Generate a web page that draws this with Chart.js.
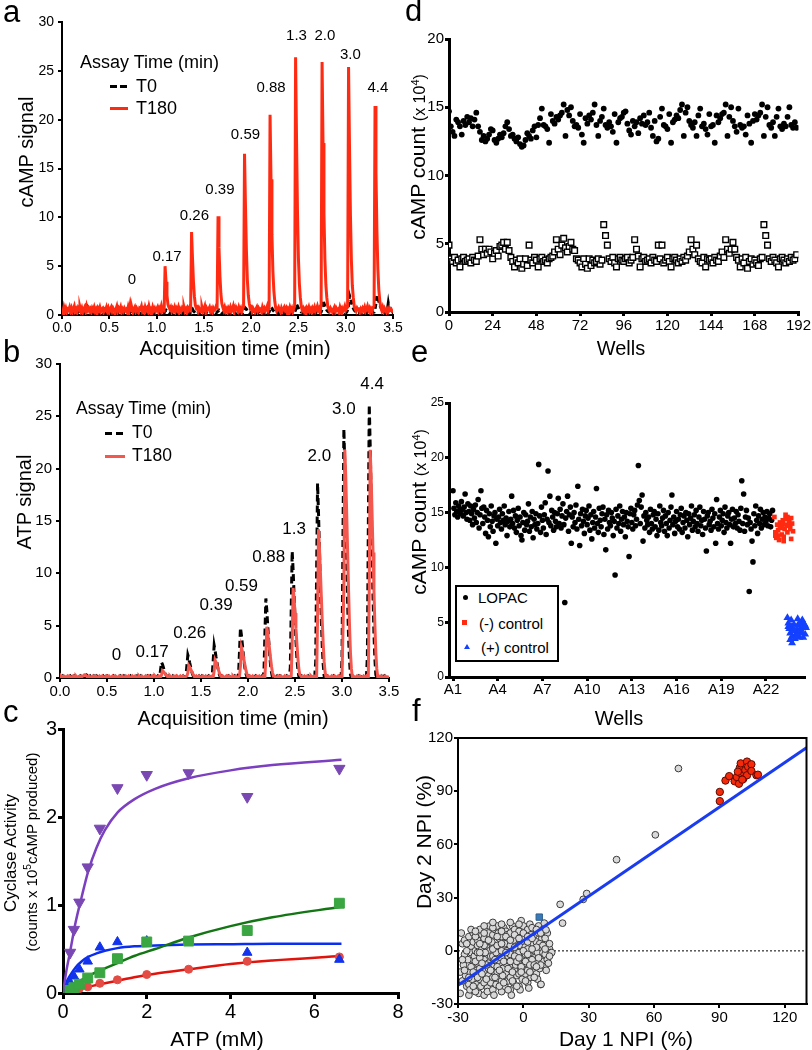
<!DOCTYPE html>
<html>
<head>
<meta charset="utf-8">
<script src="https://cdn.jsdelivr.net/npm/chart.js@4.4.0/dist/chart.umd.min.js"></script>
<style>
body { margin:0; background:#fff; font-family:'Liberation Sans', Arial, Helvetica, sans-serif; color:#000; }
#fig { position:relative; width:812px; height:1050px; overflow:hidden; background:#fff; }
canvas { position:absolute; }
.t { position:absolute; transform:translate(-50%,-50%); white-space:nowrap; line-height:1; }
.v { position:absolute; transform:translate(-50%,-50%) rotate(-90deg); white-space:nowrap; line-height:1; }
.l { position:absolute; transform:translateY(-50%); white-space:nowrap; line-height:1; }
.p { position:absolute; font-size:31px; line-height:1; }
.bar { position:absolute; height:3px; }
sup { font-size:0.68em; vertical-align:0.55em; line-height:0; }
</style>
</head>
<body>
<div id="fig">
<canvas id="chartA" width="406" height="345" style="left:0;top:0"></canvas>
<canvas id="chartB" width="406" height="360" style="left:0;top:350px"></canvas>
<canvas id="chartC" width="406" height="345" style="left:0;top:705px"></canvas>
<canvas id="chartD" width="406" height="345" style="left:406px;top:0"></canvas>
<canvas id="chartE" width="406" height="360" style="left:406px;top:350px"></canvas>
<canvas id="chartF" width="406" height="345" style="left:406px;top:705px"></canvas>

<!-- panel letters -->
<div class="p" style="left:3px;top:-4px">a</div>
<div class="p" style="left:3px;top:336px">b</div>
<div class="p" style="left:3px;top:696px">c</div>
<div class="p" style="left:405px;top:-5px">d</div>
<div class="p" style="left:411px;top:336px">e</div>
<div class="p" style="left:412px;top:695px">f</div>

<!-- axis titles -->
<div class="t" style="left:235px;top:348px;font-size:20px">Acquisition time (min)</div>
<div class="v" style="left:26px;top:152px;font-size:20px">cAMP signal</div>
<div class="t" style="left:233px;top:718px;font-size:20px">Acquisition time (min)</div>
<div class="v" style="left:24px;top:502px;font-size:20px">ATP signal</div>
<div class="t" style="left:217px;top:1038px;font-size:21px">ATP (mM)</div>
<div class="v" style="left:10px;top:853px;font-size:17px">Cyclase Activity</div>
<div class="v" style="left:31px;top:852px;font-size:15px">(counts x 10<sup>5</sup>cAMP produced)</div>
<div class="t" style="left:621px;top:348px;font-size:20px">Wells</div>
<div class="v" style="left:417px;top:157px;font-size:21px">cAMP count <span style="font-size:16px">(x 10<sup>4</sup>)</span></div>
<div class="t" style="left:619px;top:718px;font-size:20px">Wells</div>
<div class="v" style="left:418px;top:512px;font-size:21px">cAMP count <span style="font-size:16px">(x 10<sup>4</sup>)</span></div>
<div class="t" style="left:626px;top:1038px;font-size:21px">Day 1 NPI (%)</div>
<div class="v" style="left:423px;top:842px;font-size:21px">Day 2 NPI (%)</div>

<!-- legend a -->
<div class="l" style="left:80px;top:62px;font-size:18px">Assay Time (min)</div>
<div class="bar" style="left:110px;top:85px;width:7px;background:#000"></div>
<div class="bar" style="left:120px;top:85px;width:7px;background:#000"></div>
<div class="l" style="left:136px;top:86px;font-size:18px">T0</div>
<div class="bar" style="left:110px;top:107px;width:18px;background:#ff2a12"></div>
<div class="l" style="left:136px;top:108px;font-size:18px">T180</div>

<!-- legend b -->
<div class="l" style="left:76px;top:409px;font-size:17.5px">Assay Time (min)</div>
<div class="bar" style="left:105px;top:432px;width:7px;background:#000"></div>
<div class="bar" style="left:116px;top:432px;width:7px;background:#000"></div>
<div class="l" style="left:132px;top:433px;font-size:17.5px">T0</div>
<div class="bar" style="left:105px;top:455px;width:20px;background:#f4574e"></div>
<div class="l" style="left:132px;top:456px;font-size:17.5px">T180</div>

<!-- legend e -->
<div style="position:absolute;left:455px;top:585px;width:100px;height:73px;border:2px solid #000;background:#fff"></div>
<div style="position:absolute;left:462.5px;top:594.5px;width:5px;height:5px;border-radius:50%;background:#000"></div>
<div class="l" style="left:478px;top:597px;font-size:15px">LOPAC</div>
<div style="position:absolute;left:462px;top:620px;width:5px;height:5px;background:#ff2a10"></div>
<div class="l" style="left:479px;top:623px;font-size:15px">(-) control</div>
<div style="position:absolute;left:464px;top:644px;width:0;height:0;border-left:3px solid transparent;border-right:3px solid transparent;border-bottom:5px solid #1440ff"></div>
<div class="l" style="left:481px;top:647px;font-size:15px">(+) control</div>
</div>

<script>
// ---------- data ----------
var sampleStep = 0.01; // acquisition sampling, min

// panel a: cAMP signal, one value per 0.01 min (0.00 .. 3.50)
var campT180 = [
0.6,0.3,0.8,0.4,0.7,0.3,0.6,0.5,0.8,0.4,
0.7,0.3,0.6,0.9,0.4,0.6,0.3,0.7,0.5,0.8,
0.4,0.7,0.3,0.6,0.8,0.4,0.9,0.5,0.7,0.4,
0.6,0.3,0.7,0.5,0.8,0.4,0.6,0.3,0.7,0.5,
0.8,0.4,0.6,0.7,0.3,0.6,0.5,0.8,0.4,0.7,
0.3,0.6,0.8,0.4,0.7,0.5,0.3,0.6,0.9,0.4,
0.7,0.5,0.8,0.3,0.6,0.4,0.7,0.5,0.6,0.3,
0.8,0.4,1.0,0.5,0.7,0.3,0.6,0.8,0.4,0.7,
0.5,0.3,0.7,0.6,0.9,0.4,0.6,0.3,0.8,0.5,
0.7,0.4,0.9,0.5,0.6,0.3,0.8,0.5,0.7,0.4,
0.6,0.8,0.4,0.7,0.5,0.9,0.4,0.6,0.5,5.0,
3.4,2.0,1.1,0.8,0.6,0.8,0.4,0.7,0.5,0.8,
0.4,0.7,0.5,0.8,0.3,0.6,0.4,0.7,0.5,0.8,
0.4,0.6,0.3,0.7,0.5,0.8,0.6,8.5,5.8,3.4,
1.9,1.0,0.7,0.8,0.4,0.7,0.5,0.3,0.8,0.4,
0.6,0.9,0.3,0.7,0.5,0.6,0.8,0.4,0.6,0.3,
0.7,0.5,0.6,0.9,0.8,10.1,6.9,4.0,2.2,1.2,
0.8,0.5,0.8,0.4,0.6,0.3,0.7,0.5,0.8,0.4,
0.6,0.9,0.3,0.7,0.5,0.6,0.4,0.8,0.5,0.7,
0.3,0.6,0.9,16.5,11.2,6.6,3.6,2.0,1.2,0.7,
0.8,0.4,0.7,0.5,0.3,0.6,0.8,0.4,0.7,0.5,
0.6,0.3,0.8,0.5,0.7,0.4,0.6,0.9,0.5,0.8,
20.5,13.9,8.2,4.5,2.5,1.4,0.7,0.4,0.6,0.8,
0.5,0.3,0.7,0.4,0.6,0.8,0.5,0.7,0.3,0.6,
0.4,0.8,0.5,0.7,0.3,0.6,0.9,26.4,18.0,10.6,
5.8,3.2,1.8,0.9,0.5,0.7,0.4,0.6,0.3,0.7,
0.5,0.8,0.4,0.6,0.3,0.7,0.5,0.8,0.4,0.6,
0.9,0.5,0.7,0.4,1.0,25.9,17.6,10.4,5.7,3.1,
1.8,0.9,0.6,0.4,0.7,0.5,0.3,0.6,0.8,0.4,
0.7,0.5,0.6,0.3,0.8,0.5,0.7,0.4,0.6,0.9,
0.5,0.7,0.8,25.4,17.3,10.2,5.6,3.0,1.8,0.9,
0.6,0.4,0.7,0.5,0.8,0.3,0.6,0.4,0.7,0.5,
0.8,0.4,0.6,0.9,0.5,0.7,0.3,0.6,0.4,0.8,
0.9,21.4,14.6,8.6,4.7,2.6,1.5,0.8,0.5,0.8,
0.4,0.7,0.5,0.3,0.6,0.4,0.7,0.5,0.6,0.4,
0.5];
var campT0 = [
1.0,0.6,0.3,0.2,0.3,0.2,0.1,0.2,0.3,0.2,
0.2,0.1,0.3,0.2,0.2,0.1,0.2,0.3,0.2,0.1,
0.2,0.3,0.2,0.2,0.4,0.7,1.2,1.0,0.6,0.4,
0.3,0.2,0.3,0.2,0.2,0.1,0.2,0.2,0.3,0.2,
0.2,0.1,0.2,0.3,0.2,0.2,0.1,0.2,0.2,0.3,
0.2,0.1,0.2,0.2,0.3,0.2,0.2,0.1,0.2,0.2,
0.3,0.2,0.2,0.1,0.2,0.2,0.3,0.2,0.1,0.2,
0.2,0.3,0.2,0.2,0.1,0.2,0.2,0.3,0.2,0.2,
0.1,0.2,0.2,0.1,0.2,0.3,0.2,0.2,0.1,0.2,
0.2,0.3,0.2,0.1,0.2,0.2,0.3,0.2,0.2,0.1,
0.2,0.2,0.3,0.2,0.1,0.2,0.2,0.3,0.2,0.4,
0.5,0.4,0.3,0.2,0.2,0.1,0.2,0.2,0.3,0.2,
0.2,0.1,0.2,0.3,0.2,0.2,0.1,0.2,0.2,0.3,
0.2,0.2,0.1,0.2,0.3,0.2,0.3,0.5,0.6,0.4,
0.3,0.2,0.2,0.1,0.2,0.3,0.2,0.2,0.1,0.2,
0.2,0.3,0.2,0.2,0.1,0.2,0.2,0.3,0.2,0.2,
0.1,0.2,0.3,0.2,0.3,0.4,0.5,0.4,0.3,0.2,
0.2,0.3,0.2,0.1,0.2,0.2,0.3,0.2,0.2,0.1,
0.2,0.2,0.3,0.2,0.1,0.2,0.2,0.3,0.2,0.2,
0.1,0.2,0.3,0.5,0.7,0.6,0.4,0.3,0.2,0.2,
0.3,0.2,0.2,0.1,0.2,0.2,0.3,0.2,0.2,0.1,
0.2,0.2,0.3,0.2,0.1,0.2,0.2,0.3,0.2,0.3,
0.6,0.8,0.7,0.5,0.4,0.3,0.2,0.2,0.3,0.2,
0.2,0.1,0.2,0.2,0.3,0.2,0.2,0.1,0.2,0.2,
0.3,0.2,0.2,0.1,0.2,0.2,0.3,0.5,1.1,0.9,
0.7,0.5,0.4,0.3,0.3,0.2,0.2,0.3,0.2,0.2,
0.1,0.2,0.2,0.3,0.2,0.2,0.1,0.2,0.2,0.3,
0.2,0.2,0.1,0.2,0.3,0.6,1.5,1.2,0.9,0.7,
0.5,0.4,0.3,0.3,0.2,0.2,0.3,0.2,0.2,0.1,
0.2,0.2,0.3,0.2,0.2,0.1,0.2,0.2,0.3,0.2,
0.2,0.3,0.5,1.0,2.0,1.7,1.3,1.0,0.7,0.5,
0.4,0.3,0.3,0.2,0.2,0.1,0.2,0.2,0.3,0.2,
0.2,0.1,0.2,0.3,0.2,0.2,0.3,0.2,0.2,0.3,
0.3,0.6,1.2,2.0,1.8,1.4,1.1,0.8,0.6,0.4,
0.3,0.3,0.2,0.2,0.5,1.2,0.6,0.3,0.2,0.2,
0.3];

// panel b: ATP signal
var atpT0 = [
0.2,0.1,0.1,0.2,0.1,0.1,0.1,0.2,0.1,0.1,
0.1,0.2,0.1,0.1,0.1,0.2,0.1,0.1,0.2,0.1,
0.1,0.1,0.2,0.1,0.1,0.2,0.3,0.4,0.3,0.2,
0.1,0.1,0.2,0.1,0.1,0.1,0.2,0.1,0.1,0.2,
0.1,0.1,0.1,0.2,0.1,0.1,0.2,0.1,0.1,0.1,
0.2,0.1,0.1,0.1,0.2,0.1,0.1,0.2,0.1,0.1,
0.1,0.2,0.1,0.1,0.2,0.1,0.1,0.1,0.2,0.1,
0.1,0.1,0.2,0.1,0.1,0.2,0.1,0.1,0.1,0.2,
0.1,0.1,0.2,0.1,0.1,0.1,0.2,0.1,0.1,0.2,
0.1,0.1,0.1,0.2,0.1,0.1,0.2,0.1,0.1,0.1,
0.2,0.1,0.1,0.1,0.2,0.1,0.12,0.8,1.5,1.3,
1.0,0.7,0.45,0.25,0.12,0.1,0.2,0.1,0.1,0.1,
0.2,0.1,0.1,0.1,0.2,0.1,0.1,0.2,0.1,0.1,
0.1,0.2,0.1,0.1,0.18,1.2,2.2,1.9,1.45,1.05,
0.66,0.35,0.15,0.1,0.2,0.1,0.1,0.1,0.2,0.1,
0.1,0.2,0.1,0.1,0.1,0.2,0.1,0.1,0.2,0.1,
0.1,0.1,0.25,1.7,3.1,2.6,2.0,1.5,0.93,0.5,
0.22,0.1,0.2,0.1,0.1,0.1,0.2,0.1,0.1,0.2,
0.1,0.1,0.1,0.2,0.1,0.1,0.2,0.1,0.1,0.1,
0.4,2.6,4.8,4.1,3.2,2.3,1.45,0.77,0.34,0.1,
0.1,0.2,0.1,0.1,0.1,0.2,0.1,0.1,0.2,0.1,
0.1,0.1,0.2,0.1,0.1,0.2,0.1,0.6,4.2,7.6,
6.5,5.0,3.6,2.3,1.2,0.53,0.1,0.2,0.1,0.1,
0.1,0.2,0.1,0.1,0.2,0.1,0.1,0.1,0.2,0.1,
0.1,0.2,0.1,0.1,0.1,1.0,6.7,12.1,10.3,8.0,
5.7,3.6,1.9,0.85,0.2,0.1,0.1,0.2,0.1,0.1,
0.2,0.1,0.1,0.1,0.2,0.1,0.1,0.2,0.1,0.1,
0.1,0.2,1.5,10.2,18.6,15.8,12.3,8.7,5.6,3.0,
1.3,0.2,0.1,0.1,0.2,0.1,0.1,0.1,0.2,0.1,
0.1,0.2,0.1,0.1,0.1,0.2,0.1,0.1,0.2,0.1,
1.9,13.1,23.8,20.2,15.7,11.2,7.1,3.8,1.7,0.3,
0.1,0.2,0.1,0.1,0.1,0.2,0.1,0.1,0.2,0.1,
0.1,0.1,0.2,0.1,0.1,0.2,0.1,2.1,14.4,26.1,
22.2,17.2,12.3,7.8,4.2,1.8,0.3,0.1,0.2,0.1,
0.1,0.1,0.2,0.1,0.1,0.2,0.1,0.1,0.1,0.2,
0.1];
var atpT180 = [
0.1,0.2,0.1,0.1,0.2,0.1,0.1,0.1,0.2,0.1,
0.2,0.1,0.1,0.1,0.2,0.1,0.1,0.2,0.1,0.1,
0.1,0.2,0.1,0.1,0.2,0.2,0.3,0.3,0.2,0.1,
0.1,0.2,0.1,0.1,0.1,0.2,0.1,0.1,0.2,0.1,
0.1,0.1,0.2,0.1,0.1,0.2,0.1,0.1,0.1,0.2,
0.1,0.1,0.2,0.1,0.1,0.1,0.2,0.1,0.1,0.2,
0.1,0.1,0.1,0.2,0.1,0.1,0.2,0.1,0.1,0.1,
0.2,0.1,0.1,0.2,0.1,0.1,0.1,0.2,0.1,0.1,
0.2,0.1,0.1,0.1,0.2,0.1,0.1,0.2,0.1,0.1,
0.1,0.2,0.1,0.1,0.2,0.1,0.1,0.1,0.2,0.1,
0.1,0.2,0.1,0.1,0.1,0.2,0.1,0.1,0.28,0.7,
0.62,0.5,0.39,0.27,0.16,0.1,0.1,0.2,0.1,0.1,
0.1,0.2,0.1,0.1,0.2,0.1,0.1,0.1,0.2,0.1,
0.1,0.2,0.1,0.1,0.1,0.2,0.48,1.2,1.06,0.86,
0.66,0.46,0.28,0.13,0.1,0.2,0.1,0.1,0.2,0.1,
0.1,0.1,0.2,0.1,0.1,0.2,0.1,0.1,0.1,0.2,
0.1,0.1,0.2,0.1,0.68,1.7,1.5,1.22,0.94,0.65,
0.39,0.19,0.1,0.2,0.1,0.1,0.1,0.2,0.1,0.1,
0.2,0.1,0.1,0.1,0.2,0.1,0.1,0.2,0.1,0.1,
0.1,0.2,1.16,2.9,2.55,2.09,1.6,1.1,0.67,0.32,
0.12,0.1,0.2,0.1,0.1,0.2,0.1,0.1,0.1,0.2,
0.1,0.1,0.2,0.1,0.1,0.1,0.2,0.1,0.1,1.96,
4.9,4.3,3.5,2.7,1.86,1.13,0.54,0.2,0.2,0.1,
0.1,0.1,0.2,0.1,0.1,0.2,0.1,0.1,0.1,0.2,
0.1,0.1,0.2,0.1,0.1,0.1,0.2,3.4,8.6,7.6,
6.2,4.7,3.3,2.0,0.95,0.34,0.2,0.1,0.1,0.1,
0.2,0.1,0.1,0.2,0.1,0.1,0.1,0.2,0.1,0.1,
0.2,0.1,0.1,0.1,5.7,14.2,12.5,10.2,7.8,5.4,
3.3,1.56,0.57,0.1,0.1,0.2,0.1,0.1,0.1,0.2,
0.1,0.1,0.2,0.1,0.1,0.1,0.2,0.1,0.1,0.2,
0.1,0.1,8.7,21.8,19.2,15.7,12.0,8.3,5.0,2.4,
0.87,0.1,0.2,0.1,0.1,0.1,0.2,0.1,0.1,0.2,
0.1,0.1,0.1,0.2,0.1,0.1,0.2,0.1,0.1,8.7,
21.8,19.2,15.7,12.0,8.3,5.0,2.4,0.87,0.1,0.2,
0.1,0.1,0.2,0.1,0.1,0.1,0.2,0.1,0.1,0.1,
0.2];

// ATP concentration labels on the peaks (mM), anchored in data units
var peakText = ['0', '0.17', '0.26', '0.39', '0.59', '0.88', '1.3', '2.0', '3.0', '4.4'];
var peakTimeA = [0.74, 1.11, 1.40, 1.67, 1.94, 2.21, 2.48, 2.78, 3.05, 3.34];
var peakSignalA = [3.6, 6.0, 10.1, 12.8, 18.4, 23.3, 28.6, 28.6, 26.6, 23.3];
var peakTimeB = [0.60, 0.98, 1.38, 1.66, 1.93, 2.22, 2.49, 2.76, 3.02, 3.32];
var peakSignalB = [2.2, 2.5, 4.3, 6.9, 8.8, 11.5, 14.2, 21.2, 25.7, 28.1];

// panel c: cyclase activity vs ATP
var atpConc = [0.17, 0.26, 0.39, 0.59, 0.88, 1.3, 2.0, 3.0, 4.4, 6.6];
var activityPurple = [0.46, 0.72, 1.03, 1.43, 1.87, 2.33, 2.48, 2.50, 2.23, 2.55];
var activityGreen = [0.03, 0.06, 0.10, 0.17, 0.23, 0.39, 0.58, 0.59, 0.71, 1.02];
var activityBlue = [0.12, 0.19, 0.27, 0.36, 0.52, 0.58, 0.59, 0.58, 0.46, 0.38];
var activityRed = [0.01, 0.03, 0.05, 0.07, 0.11, 0.15, 0.21, 0.27, 0.36, 0.41];
// fitted curves
var fitAtp = [0, 0.08, 0.17, 0.3, 0.45, 0.6, 0.8, 1.0, 1.3, 1.7, 2.2, 3.0, 4.0, 5.0, 6.65];
var fitPurple = [0, 0.25, 0.47, 0.8, 1.1, 1.38, 1.65, 1.85, 2.05, 2.2, 2.32, 2.44, 2.53, 2.59, 2.65];
var fitGreen = [0, 0.03, 0.06, 0.1, 0.15, 0.19, 0.24, 0.28, 0.34, 0.42, 0.5, 0.63, 0.76, 0.86, 0.98];
var fitBlue = [0, 0.12, 0.2, 0.29, 0.36, 0.41, 0.45, 0.48, 0.51, 0.53, 0.54, 0.55, 0.555, 0.56, 0.56];
var fitRed = [0, 0.01, 0.02, 0.03, 0.05, 0.07, 0.09, 0.11, 0.14, 0.18, 0.22, 0.27, 0.33, 0.37, 0.42];

// panel d: cAMP count (x10^4) per well, 192 wells
var countHigh = [
14.7,13.6,13.2,12.9,14.1,13.9,13.6,13.0,14.0,13.7,14.3,13.9,14.2,13.6,14.1,14.6,13.6,13.2,12.6,12.9,12.5,12.7,13.0,13.4,
13.3,12.6,12.4,12.7,13.0,12.8,13.1,13.6,13.9,13.4,12.9,13.0,12.7,12.5,12.8,12.3,12.1,12.2,12.6,13.1,12.9,12.7,13.3,13.6,
12.8,13.7,14.2,14.9,13.7,13.6,13.4,12.4,14.5,14.0,13.8,14.3,14.1,14.4,14.6,15.2,12.9,14.8,14.4,15.0,14.0,13.6,13.7,13.5,
14.5,13.0,12.4,14.2,13.8,14.4,14.1,14.6,15.2,13.7,12.9,14.0,14.3,14.9,13.7,13.5,13.9,13.6,13.2,14.5,12.4,13.9,14.2,14.3,
14.6,14.7,13.8,13.3,13.0,14.0,13.6,13.9,13.1,14.2,13.8,14.4,13.7,13.9,14.6,13.5,12.9,14.0,12.5,12.7,14.3,14.9,13.7,13.6,
13.4,14.5,12.4,13.9,14.1,14.4,14.2,14.8,15.2,12.9,14.6,15.0,14.0,13.7,13.5,13.9,12.9,14.4,14.9,13.6,13.8,13.4,13.0,14.5,
13.6,13.7,12.4,14.4,13.9,14.2,14.5,14.6,15.2,12.9,14.3,15.0,14.0,13.6,13.2,14.9,13.7,13.5,13.6,13.0,14.4,13.8,12.4,14.0,
14.5,14.1,14.4,14.6,15.2,12.9,14.3,15.0,13.7,13.5,13.9,12.9,14.3,14.9,13.6,13.4,13.8,13.6,14.3,15.0,13.7,13.5,13.9,13.5];
var countLow = [
4.9,3.9,3.7,4.0,3.6,3.8,3.3,3.9,4.0,3.7,3.8,3.9,3.6,4.0,3.8,3.7,4.1,5.3,4.6,4.2,4.6,4.3,4.6,4.4,
3.9,4.3,4.5,4.1,4.8,4.9,5.1,4.6,5.1,4.5,4.0,3.7,3.3,3.8,3.6,3.9,3.2,3.5,3.9,3.4,4.9,3.8,3.6,4.0,
3.8,3.3,3.9,4.0,3.7,3.8,3.6,3.9,4.0,4.1,4.4,5.3,4.6,4.2,4.9,5.4,4.7,4.4,4.8,5.1,4.6,4.5,3.9,3.8,
3.6,3.3,3.9,3.5,3.2,3.9,3.4,3.8,3.6,3.7,3.9,3.5,3.8,6.4,5.6,4.9,3.9,3.7,4.0,3.6,3.3,3.9,4.0,3.8,
3.7,3.9,4.0,3.6,3.8,4.0,5.3,4.6,4.1,3.3,3.9,4.0,3.7,3.8,3.9,3.6,4.0,3.8,3.7,4.9,3.9,4.9,3.6,3.8,
4.0,3.7,3.3,3.9,4.0,3.8,3.6,3.9,3.7,4.0,3.8,4.1,4.4,5.3,4.6,4.2,4.9,3.9,3.7,3.6,4.0,3.3,3.9,3.8,
3.9,3.6,4.0,3.8,3.7,4.1,4.4,4.0,5.3,4.6,4.3,4.6,5.1,4.6,4.0,3.8,3.3,3.9,3.6,4.0,3.2,3.7,3.9,3.5,
3.8,3.6,3.4,3.9,4.0,6.4,5.6,4.9,3.9,3.7,4.0,3.8,3.6,3.3,3.9,4.0,3.8,3.6,3.9,3.7,4.0,3.8,3.9,4.2];

// panel e: LOPAC plate, wells in plate order (16 per column)
var lopacCount = [
17.0,15.4,14.8,15.9,15.1,14.6,15.6,15.2,14.9,16.0,15.3,14.7,15.5,16.7,15.0,14.4,
15.8,15.1,14.3,15.6,14.9,13.9,15.3,14.5,15.7,14.1,15.0,16.2,13.6,14.8,17.0,15.4,
14.0,15.5,14.6,13.1,15.2,14.3,12.8,14.9,13.7,15.6,14.2,13.3,14.7,15.0,12.2,14.4,
13.8,14.6,15.3,14.1,13.5,14.9,14.3,15.6,13.9,14.5,12.9,14.2,15.1,13.7,14.4,16.5,
14.0,15.2,13.6,14.7,13.2,14.3,15.4,13.8,14.6,12.9,12.5,14.1,15.0,13.4,14.8,13.9,
14.2,15.8,13.3,14.6,13.7,15.1,12.7,14.4,13.9,14.9,13.5,14.0,19.4,14.7,13.2,15.5,
14.3,13.6,14.8,15.9,13.0,14.4,18.8,14.1,16.5,13.8,15.2,14.6,13.4,15.0,14.2,13.7,
14.9,16.3,14.0,15.3,13.6,14.7,15.8,13.9,6.8,14.5,15.1,16.5,13.3,14.8,15.5,12.2,
14.6,13.7,15.0,14.1,15.7,13.5,17.4,14.4,12.0,14.9,13.8,15.3,14.2,13.1,14.7,15.2,
13.9,14.5,15.6,13.4,14.8,12.6,14.1,15.1,13.6,14.6,17.2,14.0,13.2,15.4,14.3,13.7,
14.9,15.5,13.0,14.4,11.6,14.8,13.5,15.2,14.1,13.8,15.0,14.5,12.9,14.2,9.3,15.3,
13.6,14.7,14.0,15.6,13.3,14.4,15.1,13.9,14.6,12.8,15.0,14.2,13.7,11.0,14.9,15.4,
14.1,13.5,14.8,15.2,13.8,14.4,15.7,19.3,16.1,14.0,15.5,16.6,12.4,14.7,13.6,15.0,
14.3,13.9,14.6,13.2,15.3,14.0,13.5,14.8,15.1,13.7,14.4,12.9,14.9,13.4,15.6,14.1,
13.8,14.5,15.2,13.3,14.7,14.0,12.9,15.0,13.6,14.3,15.5,16.6,13.9,14.6,13.1,14.2,
15.1,13.7,14.4,13.5,14.8,15.4,13.2,14.1,14.7,13.6,15.0,14.3,12.8,14.9,13.9,14.5,
15.6,13.4,14.2,14.8,13.7,15.2,14.0,13.3,14.6,15.5,13.8,14.3,13.0,15.1,14.4,13.6,
11.5,14.7,15.0,13.9,14.2,13.4,15.3,14.5,13.7,14.9,12.2,16.2,14.0,13.5,14.6,15.2,
13.8,14.3,14.9,13.2,15.5,14.1,13.6,14.7,15.0,13.9,12.2,14.4,15.3,13.7,14.5,14.0,
15.1,13.6,14.8,14.2,13.4,15.4,17.9,14.0,16.7,13.3,14.6,15.2,13.9,14.5,7.8,14.1,
13.5,12.4,10.5,14.9,13.8,15.6,14.3,13.1,14.7,14.0,15.3,13.6,14.4,15.0,13.9,14.6,
14.2,15.1,13.8,14.5,14.9,13.7,14.3,15.2];
var negWell = [345, 346, 347, 348, 349, 350, 351, 352, 353, 354, 355, 356, 357, 358, 359, 360, 361, 362, 363, 364, 365, 349, 353, 357,
  347, 351, 355, 359, 363, 346, 354, 362];
var negCount = [14.6, 13.2, 12.7, 13.9, 13.4, 12.5, 14.1, 13.6, 13.0, 14.3, 12.8, 13.5, 14.8, 13.9, 14.6, 13.8, 14.2, 13.9, 12.6, 14.0, 13.3, 12.9, 13.7, 14.4,
  13.1, 13.8, 12.4, 13.2, 14.5, 12.9, 14.0, 13.5];
var posWell = [359, 360, 361, 362, 363, 364, 365, 366, 367, 368, 369, 370, 371, 372, 373, 374, 375, 376, 377, 378, 379, 364, 368, 372,
  360, 363, 366, 369, 372, 375, 378, 362, 370, 376];
var posCount = [5.4, 4.9, 4.4, 4.0, 4.6, 3.7, 4.2, 4.8, 3.5, 3.9, 4.3, 4.7, 4.1, 3.6, 4.4, 5.0, 5.2, 4.5, 4.8, 3.9, 4.5, 3.1, 3.8, 4.1,
  4.6, 5.2, 4.3, 3.8, 4.9, 4.0, 4.7, 3.4, 5.3, 3.6];
var plateTickWell = [0, 48, 96, 144, 192, 240, 288, 336];
var plateTickLabel = ['A1', 'A4', 'A7', 'A10', 'A13', 'A16', 'A19', 'A22'];

// panel f: [day 1 NPI, day 2 NPI]
var libraryNpi = [
[-28.5,10],[-28,4],[-29,-12],[-28,-17],[-29,-24],[-27,-2],[-27.5,-8],[-26.5,-14],[-27,6],[-26,-20],
[-25,-25],[-25,-19],[-24.5,-12],[-25.5,-5],[-24,2],[-25,8],[-23.5,-16],[-23,-8],[-24,-1],[-23,5],[-24.5,-22],[-23,10],[-22.5,-3],
[-22,-13],[-21.5,-19],[-21,-7],[-22,0],[-21,6],[-20.5,-24],[-20,-16],[-20,-10],[-19.5,-3],[-21,3],[-19,9],[-20,12],[-19.5,-20],[-22,-23],[-19,1],[-21,-1],
[-18,-25],[-18,-18],[-17.5,-11],[-18,-5],[-17,2],[-18,7],[-16.5,-21],[-16,-14],[-16,-7],[-15.5,0],[-17,12],[-15,5],[-16,10],[-15,-3],[-17.5,-1],[-15,-18],[-16.5,-23],[-15.5,14],
[-14,-22],[-14,-15],[-13.5,-9],[-14,-3],[-13,3],[-14,9],[-12.5,-19],[-12,-12],[-12,-6],[-11.5,1],[-13,12],[-11,7],[-12,14],[-11,-2],[-13.5,-25],[-11,-16],[-12.5,-1],[-14.5,5],[-11.5,10],
[-10,-23],[-10,-17],[-9.5,-10],[-10,-4],[-9,2],[-10,8],[-8.5,-20],[-8,-13],[-8,-7],[-7.5,0],[-9,13],[-7,5],[-8,11],[-7,-3],[-9.5,-14],[-7,-17],[-8.5,4],[-10,15],[-7.5,9],
[-6,-22],[-6,-15],[-5.5,-9],[-6,-2],[-5,4],[-6,10],[-4.5,-18],[-4,-11],[-4,-5],[-3.5,1],[-5,14],[-3,7],[-4,12],[-3,-1],[-5.5,-25],[-3,-14],[-4.5,6],[-6,16],[-3.5,-8],
[-2,-20],[-2,-13],[-1.5,-7],[-2,-1],[-1,5],[-2,11],[-0.5,-16],[0,-10],[0,-4],[0.5,2],[-1,17],[1,8],[0,14],[1,-2],[-1.5,-22],[1,-13],[-0.5,7],[-2,15],[0.5,-7],
[2,-18],[2,-11],[2.5,-5],[2,1],[3,6],[2,12],[3.5,-15],[4,-8],[4,-2],[4.5,4],[3,15],[5,9],[4,13],[5,-4],[2.5,-21],[5,-12],[3.5,9],[5,0],
[6,-13],[6,-7],[6.5,-1],[6,5],[7,10],[7.5,-10],[8,-4],[8,2],[8.5,7],[7,14],[9,12],[9,-6],[6.5,-16],[9,-1],[8,-19],[7.5,4],[9.5,9],
[10,-9],[10,-2],[10.5,4],[11,10],[11,-5],[12,1],[12.5,-1],[10,7],[11.5,-7],[13,-1],[10.5,-11],[12,4],
[-26,0],[-24,-9],[-22,-6],[-20,-4],[-18,3],[-16,-10],[-14,1],[-12,-9],[-10,0],[-8,-1],[-6,3],[-4,-3],[-2,3],[0,0],[2,5],[4,-5],[6,2],[8,-8],
[-25,-15],[-23,-20],[-21,-15],[-19,-13],[-17,-8],[-15,-11],[-13,-15],[-11,-11],[-9,-6],[-7,-10],[-5,-12],[-3,-6],[-1,-9],[1,-6],[3,-8],[5,-8],[7,-4],[9,3],
[-24,12],[-22,8],[-20,4],[-18,10],[-16,6],[-14,13],[-12,3],[-10,11],[-8,8],[-6,6],[-4,9],[-2,7],[0,10],[2,8],[4,7],[6,12],[8,10],
[-27,-11],[-23,-12],[-19,-7],[-17,-16],[-13,-5],[-11,-20],[-9,-18],[-7,-22],[-5,-17],[-3,-20],[-1,-12],[1,-17],[3,-12],[5,-15],
[-26,4],[-22,11],[-18,14],[-14,16],[-10,4],[-6,-6],[-2,-4],[2,-2],[6,-9],[10,1],[12,-3],[-28,-5],[-20,-1],[-12,8],[-4,2],[4,1],
[71.2,102.8],[60.6,65.4],[42.8,51.4],[29.1,32.3],[27.5,29.0],[16.9,26.2],[18,15.6],[9.6,15.6],[10.4,11.8],[8.1,-18.9]];
var controlNpi = [
[90.2,89.6],[90.2,84.4],[92.8,96.0],[94.5,98.5],[97,95.6],[98,98],[99,94.2],[99.4,103.2],[99.8,105.7],[100,100],[101,97],
[101.9,101.9],[102.7,99],[102.7,106.7],[103.2,103.8],[104.7,105.2],[104.7,101.4],[107,99],[107.7,99.3],[100.5,96.5],[98.5,101]];
var referenceNpi = [[7.3, 19.0]];
var fitLineNpi = [[-30, -19.5], [130, 114.5]];
var zeroLineNpi = [[-30, 0], [130, 0]];

// tick values
var timeTicks = [0, 0.5, 1.0, 1.5, 2.0, 2.5, 3.0, 3.5];
var signalTicks = [0, 5, 10, 15, 20, 25, 30];
var atpTicks = [0, 2, 4, 6, 8];
var activityTicks = [0, 1, 2, 3];
var wellTicks = [0, 24, 48, 72, 96, 120, 144, 168, 192];
var countTicksD = [0, 5, 10, 15, 20];
var countTicksE = [0, 5, 10, 15, 20, 25];
var npiTicks = [-30, 0, 30, 60, 90, 120];

// ---------- chart setup ----------
Chart.defaults.font.family = "'Liberation Sans', Arial, Helvetica, sans-serif";
Chart.defaults.color = '#000';
Chart.defaults.animation = false;
Chart.defaults.responsive = false;
Chart.defaults.plugins.legend.display = false;
Chart.defaults.plugins.tooltip.enabled = false;

function axis(o) {
  return {
    type: 'linear',
    min: o.min,
    max: o.max,
    afterBuildTicks: function (s) { s.ticks = o.ticks.map(function (v) { return { value: v }; }); },
    afterFit: function (s) { if (o.width) s.width = o.width; if (o.height) s.height = o.height; },
    ticks: {
      autoSkip: false, maxRotation: 0, color: '#000',
      font: { size: o.font }, padding: o.pad,
      callback: o.label || function (v) { return String(v); }
    },
    grid: { drawOnChartArea: false, tickLength: o.tick, color: '#000', lineWidth: o.lw },
    border: { color: '#000', width: o.lw }
  };
}

function pairs(xs, ys) {
  return xs.map(function (x, i) { return { x: x, y: ys[i] }; });
}
function xy(list) {
  return list.map(function (p) { return { x: p[0], y: p[1] }; });
}

// text labels above the chromatogram peaks
var peakLabels = {
  id: 'peakLabels',
  afterDatasetsDraw: function (chart, args, opts) {
    if (!opts.text) return;
    var ctx = chart.ctx;
    ctx.save();
    ctx.font = opts.size + "px 'Liberation Sans', Arial, sans-serif";
    ctx.fillStyle = '#000';
    ctx.textAlign = 'center';
    ctx.textBaseline = 'middle';
    for (var i = 0; i < opts.text.length; i++) {
      ctx.fillText(opts.text[i], chart.scales.x.getPixelForValue(opts.x[i]), chart.scales.y.getPixelForValue(opts.y[i]));
    }
    ctx.restore();
  }
};

// full box around the plot area (panel f)
var frame = {
  id: 'frame',
  afterDraw: function (chart) {
    var a = chart.chartArea, ctx = chart.ctx;
    ctx.save();
    ctx.strokeStyle = '#000';
    ctx.lineWidth = 2;
    ctx.strokeRect(a.left, a.top, a.right - a.left, a.bottom - a.top);
    ctx.restore();
  }
};

var acqTime = campT180.map(function (v, i) { return Math.round(i * sampleStep * 100) / 100; });
var fixed1 = function (v) { return v.toFixed(1); };

// a
new Chart(document.getElementById('chartA'), {
  type: 'line',
  data: {
    datasets: [
      { data: pairs(acqTime, campT180), borderColor: '#ff2a12', borderWidth: 3, pointRadius: 0, order: 1 },
      { data: pairs(acqTime, campT0), borderColor: '#000', borderWidth: 3, borderDash: [5, 3], pointRadius: 0, order: 2 }
    ]
  },
  options: {
    layout: { padding: { left: 0, top: 22, right: 13, bottom: 0 } },
    scales: {
      x: axis({ min: 0, max: 3.5, ticks: timeTicks, font: 14, pad: 1, tick: 4, lw: 2, height: 30, label: fixed1 }),
      y: axis({ min: 0, max: 30, ticks: signalTicks, font: 14, pad: 4, tick: 4, lw: 2, width: 62 })
    },
    plugins: { peakLabels: { text: peakText, x: peakTimeA, y: peakSignalA, size: 15 } }
  },
  plugins: [peakLabels]
});

// b
new Chart(document.getElementById('chartB'), {
  type: 'line',
  data: {
    datasets: [
      { data: pairs(acqTime, atpT180), borderColor: '#f4574e', borderWidth: 3, pointRadius: 0, order: 1 },
      { data: pairs(acqTime, atpT0), borderColor: '#000', borderWidth: 3, borderDash: [7, 4], pointRadius: 0, order: 2 }
    ]
  },
  options: {
    layout: { padding: { left: 0, top: 14, right: 17, bottom: 0 } },
    scales: {
      x: axis({ min: 0, max: 3.5, ticks: timeTicks, font: 15, pad: 1, tick: 4, lw: 2, height: 32, label: fixed1 }),
      y: axis({ min: 0, max: 30, ticks: signalTicks, font: 15, pad: 4, tick: 4, lw: 2, width: 60 })
    },
    plugins: { peakLabels: { text: peakText, x: peakTimeB, y: peakSignalB, size: 17 } }
  },
  plugins: [peakLabels]
});

// c
function fitLine(ys, color) {
  return { type: 'line', data: pairs(fitAtp, ys), borderColor: color, borderWidth: 2.5, pointRadius: 0, cubicInterpolationMode: 'monotone', order: 5 };
}
new Chart(document.getElementById('chartC'), {
  type: 'scatter',
  data: {
    datasets: [
      { data: pairs(atpConc, activityPurple), pointStyle: 'triangle', rotation: 180, pointRadius: 6.5, backgroundColor: '#7a48b3', borderColor: '#7a48b3', order: 1 },
      { data: pairs(atpConc, activityGreen), pointStyle: 'rect', pointRadius: 7, backgroundColor: '#3aa642', borderColor: '#3aa642', order: 1 },
      { data: pairs(atpConc, activityBlue), pointStyle: 'triangle', pointRadius: 5.5, backgroundColor: '#1133ee', borderColor: '#1133ee', order: 1 },
      { data: pairs(atpConc, activityRed), pointStyle: 'circle', pointRadius: 4, backgroundColor: '#e34b45', borderColor: '#e34b45', order: 1 },
      fitLine(fitPurple, '#7b3fc0'),
      fitLine(fitGreen, '#137513'),
      fitLine(fitBlue, '#0a2ef0'),
      fitLine(fitRed, '#e0140c')
    ]
  },
  options: {
    layout: { padding: { left: 0, top: 24, right: 8, bottom: 0 } },
    scales: {
      x: axis({ min: 0, max: 8, ticks: atpTicks, font: 20, pad: 1, tick: 6, lw: 3, height: 57 }),
      y: axis({ min: 0, max: 3, ticks: activityTicks, font: 20, pad: 1, tick: 5, lw: 3, width: 63 })
    }
  }
});

// d
var wellIndexD = countHigh.map(function (v, i) { return i; });
new Chart(document.getElementById('chartD'), {
  type: 'scatter',
  data: {
    datasets: [
      { data: pairs(wellIndexD, countHigh), pointStyle: 'circle', pointRadius: 2.9, backgroundColor: '#000', borderColor: '#000', borderWidth: 0 },
      { data: pairs(wellIndexD, countLow), pointStyle: 'rect', pointRadius: 4, backgroundColor: '#fff', borderColor: '#000', borderWidth: 1.4 }
    ]
  },
  options: {
    layout: { padding: { left: 0, top: 39, right: 11, bottom: 0 } },
    scales: {
      x: axis({ min: 0, max: 192, ticks: wellTicks, font: 15, pad: 1, tick: 4, lw: 3, height: 33 }),
      y: axis({ min: 0, max: 20, ticks: countTicksD, font: 15, pad: 1, tick: 4, lw: 3, width: 43 })
    }
  }
});

// e
var wellIndexE = lopacCount.map(function (v, i) { return i; });
new Chart(document.getElementById('chartE'), {
  type: 'scatter',
  data: {
    datasets: [
      { data: pairs(negWell, negCount), pointStyle: 'rect', pointRadius: 3.3, backgroundColor: '#ff2a10', borderColor: '#ff2a10', borderWidth: 0, clip: false },
      { data: pairs(posWell, posCount), pointStyle: 'triangle', pointRadius: 4.6, backgroundColor: '#1440ff', borderColor: '#1440ff', borderWidth: 0, clip: false },
      { data: pairs(wellIndexE, lopacCount), pointStyle: 'circle', pointRadius: 2.8, backgroundColor: '#000', borderColor: '#000', borderWidth: 0 }
    ]
  },
  options: {
    layout: { padding: { left: 0, top: 53, right: 8, bottom: 0 } },
    scales: {
      x: axis({ min: -4.3, max: 376.8, ticks: plateTickWell, font: 15, pad: 0, tick: 4, lw: 3, height: 33,
        label: function (v, i) { return plateTickLabel[i]; } }),
      y: axis({ min: 0, max: 25, ticks: countTicksE, font: 12, pad: 1, tick: 4, lw: 3, width: 43 })
    }
  }
});

// f
new Chart(document.getElementById('chartF'), {
  type: 'scatter',
  data: {
    datasets: [
      { data: xy(fitLineNpi), showLine: true, borderColor: '#1a3cf0', borderWidth: 3, pointRadius: 0, order: 1 },
      { data: xy(referenceNpi), pointStyle: 'rect', pointRadius: 4.5, backgroundColor: '#3a7ab8', borderColor: '#2d5f8f', borderWidth: 1, order: 0 },
      { data: xy(controlNpi), pointStyle: 'circle', pointRadius: 3.7, backgroundColor: '#f52a0a', borderColor: '#5a0a00', borderWidth: 1, order: 2 },
      { data: xy(libraryNpi), pointStyle: 'circle', pointRadius: 3.4, backgroundColor: '#d9d9d9', borderColor: '#3a3a3a', borderWidth: 1, order: 3 },
      { data: xy(zeroLineNpi), showLine: true, borderColor: '#555', borderWidth: 1.5, borderDash: [2, 2], pointRadius: 0, order: 4 }
    ]
  },
  options: {
    layout: { padding: { left: 0, top: 33, right: 3, bottom: 0 } },
    scales: {
      x: axis({ min: -30, max: 130, ticks: npiTicks, font: 15, pad: 1, tick: 4, lw: 2, height: 46 }),
      y: axis({ min: -30, max: 120, ticks: npiTicks, font: 15, pad: 1, tick: 4, lw: 2, width: 52 })
    }
  },
  plugins: [frame]
});
</script>
</body>
</html>
